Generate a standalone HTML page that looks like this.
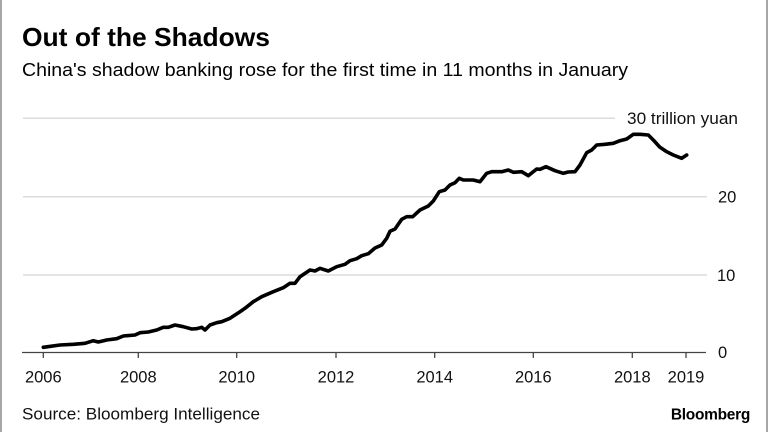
<!DOCTYPE html>
<html><head><meta charset="utf-8"><style>
html,body{margin:0;padding:0;background:#fff;}
body{width:768px;height:432px;overflow:hidden;position:relative;font-family:"Liberation Sans",Arial,sans-serif;}
</style></head><body>
<svg width="768" height="432" viewBox="0 0 768 432" xmlns="http://www.w3.org/2000/svg" style="position:absolute;left:0;top:0">
<rect x="0" y="0" width="768" height="432" fill="#fff"/>
<line x1="1" y1="0" x2="1" y2="432" stroke="#a6a6a6" stroke-width="2"/>
<line x1="767" y1="0" x2="767" y2="432" stroke="#a6a6a6" stroke-width="2"/>
<text x="22" y="46" font-family="Liberation Sans, Arial, sans-serif" font-weight="bold" font-size="26" fill="#000" textLength="248" lengthAdjust="spacingAndGlyphs">Out of the Shadows</text>
<text x="22" y="76" font-family="Liberation Sans, Arial, sans-serif" font-size="18.6" fill="#000" textLength="606" lengthAdjust="spacingAndGlyphs">China's shadow banking rose for the first time in 11 months in January</text>
<g stroke="#dcdcdc" stroke-width="1.5">
<line x1="23" y1="118.3" x2="615" y2="118.3"/>
<line x1="23" y1="196.7" x2="707" y2="196.7"/>
<line x1="23" y1="275" x2="707" y2="275"/>
</g>
<g font-family="Liberation Sans, Arial, sans-serif" font-size="16.5" fill="#111">
<text x="627" y="124" textLength="111" lengthAdjust="spacingAndGlyphs">30 trillion yuan</text>
<text x="718" y="202.5">20</text>
<text x="717" y="281">10</text>
<text x="718" y="358">0</text>
</g>
<line x1="22" y1="352.5" x2="706" y2="352.5" stroke="#444" stroke-width="1.3"/>
<g stroke="#444" stroke-width="1.3">
<line x1="43.3" y1="352.5" x2="43.3" y2="358"/>
<line x1="138.3" y1="352.5" x2="138.3" y2="358"/>
<line x1="236.7" y1="352.5" x2="236.7" y2="358"/>
<line x1="336" y1="352.5" x2="336" y2="358"/>
<line x1="434.7" y1="352.5" x2="434.7" y2="358"/>
<line x1="533.3" y1="352.5" x2="533.3" y2="358"/>
<line x1="632.3" y1="352.5" x2="632.3" y2="358"/>
<line x1="686" y1="352.5" x2="686" y2="358"/>
</g>
<g font-family="Liberation Sans, Arial, sans-serif" font-size="16.5" fill="#111" text-anchor="middle">
<text x="43.3" y="382.5">2006</text>
<text x="138.3" y="382.5">2008</text>
<text x="236.7" y="382.5">2010</text>
<text x="336" y="382.5">2012</text>
<text x="434.7" y="382.5">2014</text>
<text x="533.3" y="382.5">2016</text>
<text x="632.3" y="382.5">2018</text>
<text x="686" y="382.5">2019</text>
</g>
<polyline fill="none" stroke="#000" stroke-width="3.6" stroke-linejoin="round" stroke-linecap="round" points="43.3,347.3 60,345 73.3,344.3 85,343.3 93.3,340.7 98.3,342 106.7,340 116.7,338.7 123.3,336 135,335 140,332.7 148.3,332 156.7,330 163.3,327.3 168.3,327.3 175,325 183.3,326.7 191.7,329 196.7,328.7 201.7,327.3 205,330 210,325 216.7,322.7 221.7,321.7 230,318.3 240,311.7 245,308.3 253.3,301.7 261.7,296.7 273.3,291.7 283.3,287.7 290,283.3 295,283.3 300,276.7 310,270 315,271 320,268.3 328.3,271 336.7,266.7 345,264.3 350,260.7 356.7,258.7 361.7,255.7 368.3,253.7 375,248 381.7,245 386.7,238.3 390,231.3 395,229 401.7,219.3 406.7,216.7 412.7,216.7 420,210 428.3,206 433.3,201 439.3,191.7 445,190 450,185 455,182.7 459.3,178.3 463.3,180 473.3,180 480,181.7 486.7,173.3 491.7,171.7 501.7,171.7 508.3,170 513.3,172.3 521.7,171.7 528.3,175.7 536.7,169 540,169.3 546,166.7 555,170.7 563.3,173.3 568.3,172 575,171.7 580,165 586.7,152.7 591.7,150 596.7,145 605,144.3 613.3,143.3 620,140.7 626.7,139 633.3,134.3 640,134.3 648.3,135 653.3,140 660,147.3 666.7,151.7 673.3,155 681.7,158.3 686.7,155"/>
<text x="22" y="419.5" font-family="Liberation Sans, Arial, sans-serif" font-size="17" fill="#111" textLength="238" lengthAdjust="spacingAndGlyphs">Source: Bloomberg Intelligence</text>
<text x="750" y="419.5" text-anchor="end" font-family="Liberation Sans, Arial, sans-serif" font-weight="bold" font-size="15.5" fill="#000" letter-spacing="-0.3">Bloomberg</text>
</svg>
</body></html>
